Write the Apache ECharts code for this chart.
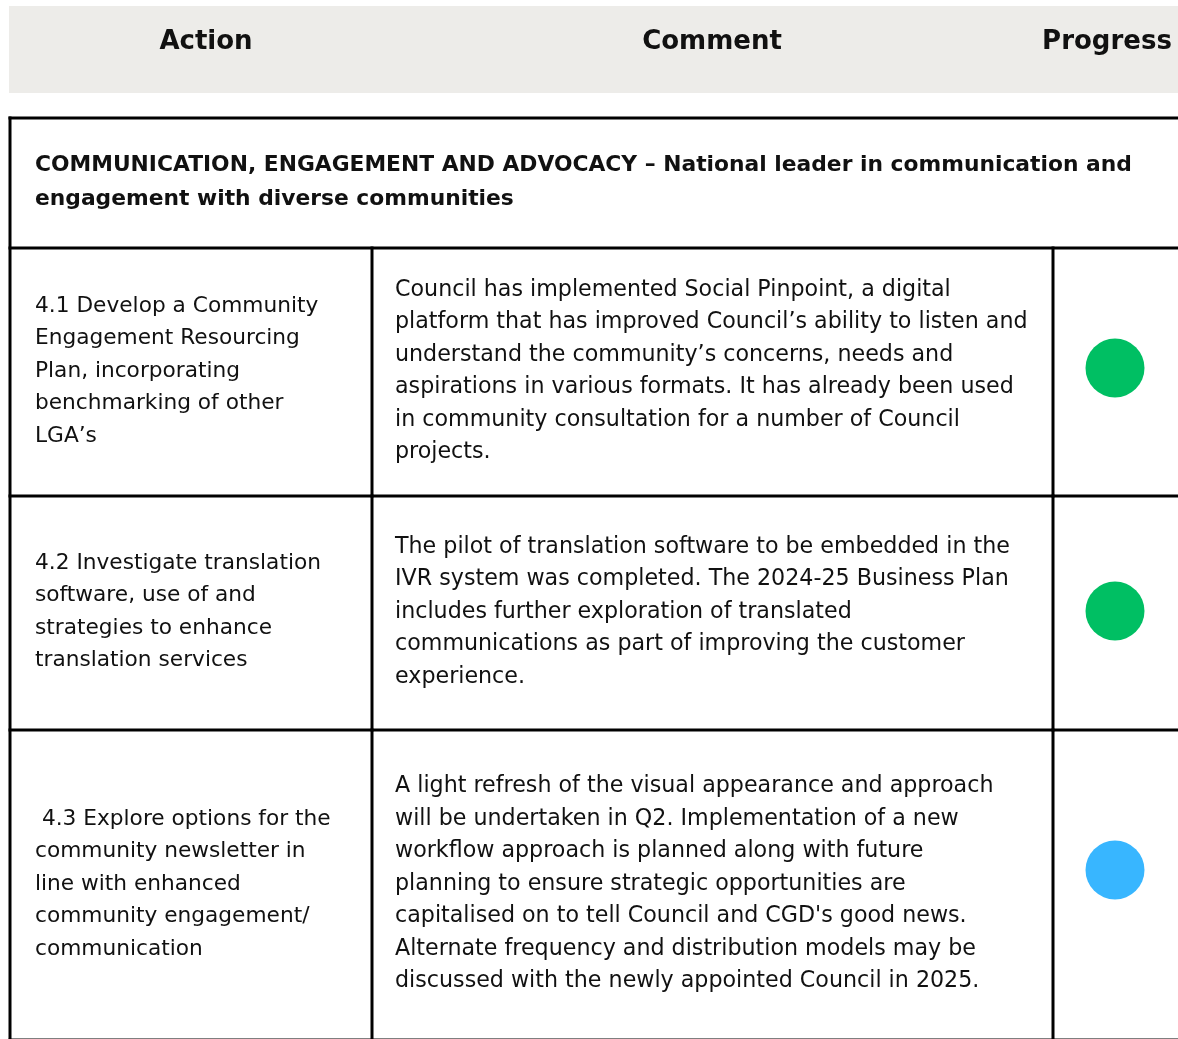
<!DOCTYPE html>
<html><head><meta charset="utf-8">
<script src="https://cdn.jsdelivr.net/npm/echarts@6/dist/echarts.min.js"></script>
<style>html,body{margin:0;padding:0;background:#fff}#c{width:1178px;height:1039px}</style>
</head><body><div id="c"></div>
<script>
// ---- data ----
const headers = ['Action', 'Comment', 'Progress'];
const sectionTitle = ['COMMUNICATION, ENGAGEMENT AND ADVOCACY \u2013 National leader in communication and', 'engagement with diverse communities'];
const actions = [
  ['4.1 Develop a Community', 'Engagement Resourcing', 'Plan, incorporating', 'benchmarking of other', 'LGA\u2019s'],
  ['4.2 Investigate translation', 'software, use of and', 'strategies to enhance', 'translation services'],
  [' 4.3 Explore options for the', 'community newsletter in', 'line with enhanced', 'community engagement/', 'communication']
];
const comments = [
  ['Council has implemented Social Pinpoint, a digital', 'platform that has improved Council\u2019s ability to listen and', 'understand the community\u2019s concerns, needs and', 'aspirations in various formats. It has already been used', 'in community consultation for a number of Council', 'projects.'],
  ['The pilot of translation software to be embedded in the', 'IVR system was completed. The 2024-25 Business Plan', 'includes further exploration of translated', 'communications as part of improving the customer', 'experience.'],
  ['A light refresh of the visual appearance and approach', 'will be undertaken in Q2. Implementation of a new', 'workflow approach is planned along with future', 'planning to ensure strategic opportunities are', 'capitalised on to tell Council and CGD\'s good news.', 'Alternate frequency and distribution models may be', 'discussed with the newly appointed Council in 2025.']
];
const progress = ['Completed', 'Completed', 'In progress'];
const statusColors = { 'Completed': '#00bf63', 'In progress': '#38b6ff' };

// ---- layout ----
const W = 1178, H = 1039;
const L = {
  bandTop: 6, bandBottom: 93, bandLeft: 9,
  headerY: 42, headerX: [206, 712, 1107],
  tableLeft: 10, tableTop: 118, sectionBottom: 248,
  rowBottoms: [496, 730, 1040],
  colX: [372, 1053],
  textX: [35, 395],
  dotX: 1115, dotOffset: [-4, -2, -15],
  lineH: 32.5, sectionLineH: 34, lw: 3
};
const FONT = '"DejaVu Sans", sans-serif';

const rowTops = [L.sectionBottom].concat(L.rowBottoms.slice(0, -1));
const rowCenters = rowTops.map((t, i) => (t + L.rowBottoms[i]) / 2);

function line(api, x1, y1, x2, y2) {
  const a = api.coord([x1, y1]), b = api.coord([x2, y2]);
  return { type: 'line', shape: { x1: a[0], y1: a[1], x2: b[0], y2: b[1] },
    style: { stroke: '#000', lineWidth: L.lw, lineCap: 'square' } };
}
function txt(api, x, y, lines, size, weight, lh, align) {
  const p = api.coord([x, y]);
  return { type: 'text', x: p[0], y: p[1],
    style: { text: lines.join('\n'), fontFamily: FONT, fontSize: size, fontWeight: weight,
      fill: '#111', lineHeight: lh, align: align || 'left', verticalAlign: 'middle' } };
}

const chart = echarts.init(document.getElementById('c'), null, { renderer: 'canvas' });
chart.setOption({
  animation: false,
  grid: { left: 0, right: 0, top: 0, bottom: 0 },
  xAxis: { type: 'value', min: 0, max: W, show: false },
  yAxis: { type: 'value', min: 0, max: H, inverse: true, show: false },
  series: [
    {
      type: 'custom', coordinateSystem: 'cartesian2d', clip: false, silent: true,
      data: [0],
      renderItem: function (params, api) {
        const a = api.coord([L.bandLeft, L.bandTop]), b = api.coord([W, L.bandBottom]);
        const children = [
          { type: 'rect', shape: { x: a[0], y: a[1], width: b[0] - a[0], height: b[1] - a[1] }, style: { fill: '#edece9' } }
        ];
        headers.forEach((h, i) => children.push(txt(api, L.headerX[i], L.headerY, [h], 26, 'bold', 30, 'center')));
        children.push(line(api, L.tableLeft, L.tableTop, W + 5, L.tableTop));
        children.push(line(api, L.tableLeft, L.tableTop, L.tableLeft, H + 5));
        children.push(line(api, L.tableLeft, L.sectionBottom, W + 5, L.sectionBottom));
        children.push(txt(api, L.textX[0], (L.tableTop + L.sectionBottom) / 2 - 1, sectionTitle, 21.8, 'bold', L.sectionLineH));
        return { type: 'group', children: children };
      }
    },
    {
      type: 'custom', coordinateSystem: 'cartesian2d', clip: false, silent: true,
      data: actions.map((_, i) => i),
      renderItem: function (params, api) {
        const i = params.dataIndex;
        const top = rowTops[i], bottom = L.rowBottoms[i], mid = (top + bottom) / 2 - 1;
        const children = [
          line(api, L.tableLeft, bottom, W + 5, bottom),
          line(api, L.colX[0], top, L.colX[0], bottom),
          line(api, L.colX[1], top, L.colX[1], bottom),
          txt(api, L.textX[0], mid, actions[i], 21.7, 'normal', L.lineH),
          txt(api, L.textX[1], mid, comments[i], 22.2, 'normal', L.lineH)
        ];
        return { type: 'group', children: children };
      }
    },
    {
      type: 'scatter', symbol: 'circle', symbolSize: 59, silent: true,
      itemStyle: { opacity: 1 },
      data: progress.map((s, i) => ({ value: [L.dotX, rowCenters[i] + L.dotOffset[i]], itemStyle: { color: statusColors[s], opacity: 1 } }))
    }
  ]
});
</script></body></html>
